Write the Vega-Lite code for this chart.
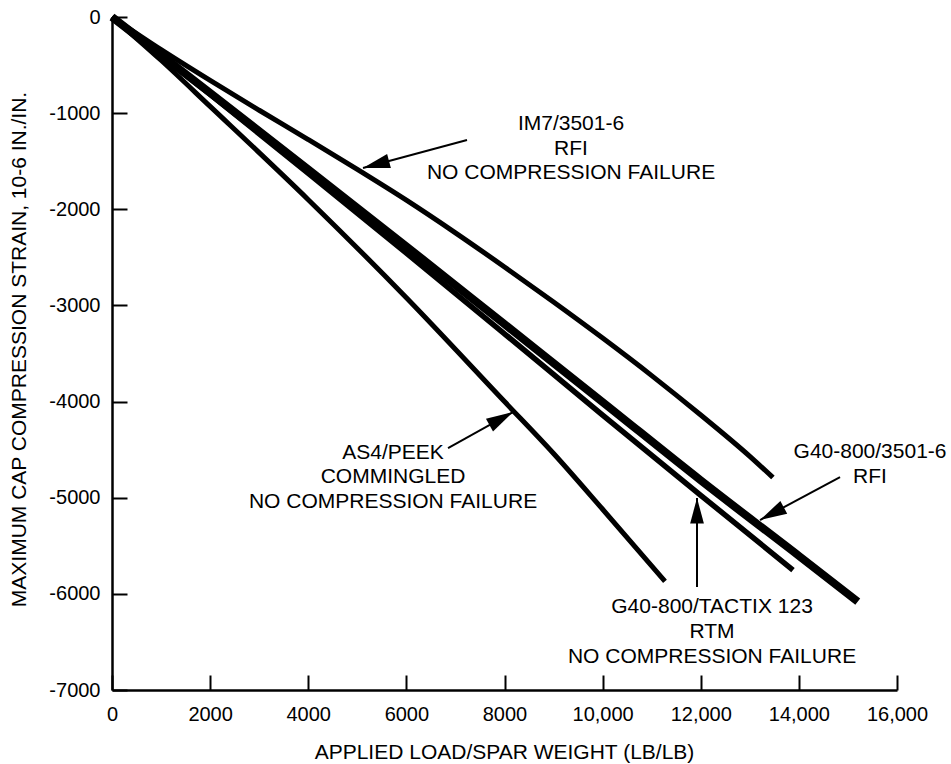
{
  "$schema": "https://vega.github.io/schema/vega-lite/v6.json",
  "width": 785,
  "height": 673,
  "autosize": {"type": "none"},
  "padding": {"left": 112, "top": 17, "right": 54, "bottom": 74},
  "background": "white",
  "config": {"view": {"stroke": null}, "font": "Liberation Sans"},
  "datasets": {
    "curves": [
      {"series": "IM7", "load": 0, "strain": 0},
      {"series": "IM7", "load": 1000, "strain": -340},
      {"series": "IM7", "load": 2000, "strain": -660},
      {"series": "IM7", "load": 3000, "strain": -970},
      {"series": "IM7", "load": 4000, "strain": -1275},
      {"series": "IM7", "load": 5000, "strain": -1585},
      {"series": "IM7", "load": 6000, "strain": -1905},
      {"series": "IM7", "load": 7000, "strain": -2245},
      {"series": "IM7", "load": 8000, "strain": -2600},
      {"series": "IM7", "load": 9000, "strain": -2965},
      {"series": "IM7", "load": 10000, "strain": -3340},
      {"series": "IM7", "load": 11000, "strain": -3730},
      {"series": "IM7", "load": 12000, "strain": -4140},
      {"series": "IM7", "load": 13000, "strain": -4570},
      {"series": "IM7", "load": 13470, "strain": -4790},
      {"series": "G40RFI", "load": 0, "strain": 0},
      {"series": "G40RFI", "load": 2000, "strain": -790},
      {"series": "G40RFI", "load": 4000, "strain": -1585},
      {"series": "G40RFI", "load": 6000, "strain": -2385},
      {"series": "G40RFI", "load": 8000, "strain": -3195},
      {"series": "G40RFI", "load": 10000, "strain": -4005},
      {"series": "G40RFI", "load": 12000, "strain": -4820},
      {"series": "G40RFI", "load": 14000, "strain": -5605},
      {"series": "G40RFI", "load": 15200, "strain": -6080},
      {"series": "TACTIX", "load": 0, "strain": 0},
      {"series": "TACTIX", "load": 2000, "strain": -805},
      {"series": "TACTIX", "load": 4000, "strain": -1625},
      {"series": "TACTIX", "load": 6000, "strain": -2455},
      {"series": "TACTIX", "load": 8000, "strain": -3295},
      {"series": "TACTIX", "load": 10000, "strain": -4140},
      {"series": "TACTIX", "load": 12000, "strain": -4975},
      {"series": "TACTIX", "load": 13880, "strain": -5752},
      {"series": "AS4", "load": 0, "strain": 0},
      {"series": "AS4", "load": 1000, "strain": -450},
      {"series": "AS4", "load": 2000, "strain": -930},
      {"series": "AS4", "load": 4000, "strain": -1900},
      {"series": "AS4", "load": 6000, "strain": -2920},
      {"series": "AS4", "load": 8000, "strain": -4000},
      {"series": "AS4", "load": 9000, "strain": -4540},
      {"series": "AS4", "load": 10000, "strain": -5120},
      {"series": "AS4", "load": 11270, "strain": -5869}
    ],
    "labels": [
      {"load": 9356, "strain": -1175, "label": "IM7/3501-6"},
      {"load": 9356, "strain": -1435, "label": "RFI"},
      {"load": 9356, "strain": -1685, "label": "NO COMPRESSION FAILURE"},
      {"load": 5728, "strain": -4598, "label": "AS4/PEEK"},
      {"load": 5728, "strain": -4847, "label": "COMMINGLED"},
      {"load": 5728, "strain": -5107, "label": "NO COMPRESSION FAILURE"},
      {"load": 12230, "strain": -6199, "label": "G40-800/TACTIX 123"},
      {"load": 12230, "strain": -6459, "label": "RTM"},
      {"load": 12230, "strain": -6719, "label": "NO COMPRESSION FAILURE"},
      {"load": 15450, "strain": -4587, "label": "G40-800/3501-6"},
      {"load": 15450, "strain": -4847, "label": "RFI"}
    ],
    "arrows": [
      {"arrow": "IM7", "load": 7236, "strain": -1279, "load2": 5116, "strain2": -1571},
      {"arrow": "AS4", "load": 6849, "strain": -4483, "load2": 8174, "strain2": -4109},
      {"arrow": "TACTIX", "load": 11924, "strain": -5929, "load2": 11924, "strain2": -5003},
      {"arrow": "G40RFI", "load": 14839, "strain": -4785, "load2": 13208, "strain2": -5232}
    ]
  },
  "layer": [
    {
      "data": {"name": "curves"},
      "mark": {"type": "line", "color": "black", "strokeCap": "butt", "strokeJoin": "round", "interpolate": "monotone"},
      "encoding": {
        "x": {
          "field": "load", "type": "quantitative",
          "scale": {"domain": [0, 16000], "nice": false, "zero": false},
          "axis": {
            "title": "APPLIED LOAD/SPAR WEIGHT (LB/LB)",
            "values": [0, 2000, 4000, 6000, 8000, 10000, 12000, 14000, 16000],
            "grid": false,
            "tickSize": -15, "tickWidth": 2, "tickColor": "black",
            "domainColor": "black", "domainWidth": 2.5,
            "labelFontSize": 20, "labelColor": "black", "labelPadding": 45,
            "labelBaseline": "alphabetic", "labelOverlap": false, "labelFlush": false,
            "labelExpr": "datum.value >= 10000 ? format(datum.value, ',') : datum.value + ''",
            "titleFontSize": 21, "titleFontWeight": "normal", "titleColor": "black",
            "titleBaseline": "alphabetic", "titleY": 68, "titleX": 392, "titleAlign": "center"
          }
        },
        "y": {
          "field": "strain", "type": "quantitative",
          "scale": {"domain": [-7000, 0], "nice": false, "zero": false},
          "axis": {
            "title": "MAXIMUM CAP COMPRESSION STRAIN, 10-6 IN./IN.",
            "values": [0, -1000, -2000, -3000, -4000, -5000, -6000, -7000],
            "grid": false,
            "tickSize": -15, "tickWidth": 2, "tickColor": "black",
            "domainColor": "black", "domainWidth": 2.5,
            "labelFontSize": 20, "labelColor": "black", "labelPadding": 27,
            "labelOverlap": false, "labelFlush": false,
            "labelExpr": "datum.value + ''",
            "titleFontSize": 21, "titleFontWeight": "normal", "titleColor": "black",
            "titleAngle": 270, "titleBaseline": "alphabetic", "titleX": -87, "titleY": 332, "titleAlign": "center"
          }
        },
        "detail": {"field": "series", "type": "nominal"},
        "strokeWidth": {
          "field": "series", "type": "nominal",
          "scale": {"type": "ordinal", "domain": ["IM7", "G40RFI", "TACTIX", "AS4"], "range": [5, 8, 5.5, 5]},
          "legend": null
        },
        "order": {"field": "load", "type": "quantitative"}
      }
    },
    {
      "data": {"name": "arrows"},
      "mark": {"type": "rule", "color": "black", "strokeWidth": 2},
      "encoding": {
        "x": {"field": "load", "type": "quantitative"},
        "y": {"field": "strain", "type": "quantitative"},
        "x2": {"field": "load2"},
        "y2": {"field": "strain2"}
      }
    },
    {
      "data": {"name": "arrows"},
      "transform": [{"filter": "datum.arrow == 'IM7'"}],
      "mark": {"type": "point", "shape": "M0,0L-0.27,1L0.27,1Z", "filled": true, "color": "black", "opacity": 1, "size": 2900, "angle": 255, "strokeWidth": 0},
      "encoding": {
        "x": {"field": "load2", "type": "quantitative"},
        "y": {"field": "strain2", "type": "quantitative"}
      }
    },
    {
      "data": {"name": "arrows"},
      "transform": [{"filter": "datum.arrow == 'AS4'"}],
      "mark": {"type": "point", "shape": "M0,0L-0.27,1L0.27,1Z", "filled": true, "color": "black", "opacity": 1, "size": 2900, "angle": 61, "strokeWidth": 0},
      "encoding": {
        "x": {"field": "load2", "type": "quantitative"},
        "y": {"field": "strain2", "type": "quantitative"}
      }
    },
    {
      "data": {"name": "arrows"},
      "transform": [{"filter": "datum.arrow == 'TACTIX'"}],
      "mark": {"type": "point", "shape": "M0,0L-0.27,1L0.27,1Z", "filled": true, "color": "black", "opacity": 1, "size": 2600, "angle": 0, "strokeWidth": 0},
      "encoding": {
        "x": {"field": "load2", "type": "quantitative"},
        "y": {"field": "strain2", "type": "quantitative"}
      }
    },
    {
      "data": {"name": "arrows"},
      "transform": [{"filter": "datum.arrow == 'G40RFI'"}],
      "mark": {"type": "point", "shape": "M0,0L-0.27,1L0.27,1Z", "filled": true, "color": "black", "opacity": 1, "size": 2900, "angle": 242, "strokeWidth": 0},
      "encoding": {
        "x": {"field": "load2", "type": "quantitative"},
        "y": {"field": "strain2", "type": "quantitative"}
      }
    },
    {
      "data": {"name": "labels"},
      "mark": {"type": "text", "font": "Liberation Sans", "fontSize": 21, "align": "center", "baseline": "alphabetic", "color": "black"},
      "encoding": {
        "x": {"field": "load", "type": "quantitative"},
        "y": {"field": "strain", "type": "quantitative"},
        "text": {"field": "label", "type": "nominal"}
      }
    }
  ]
}
